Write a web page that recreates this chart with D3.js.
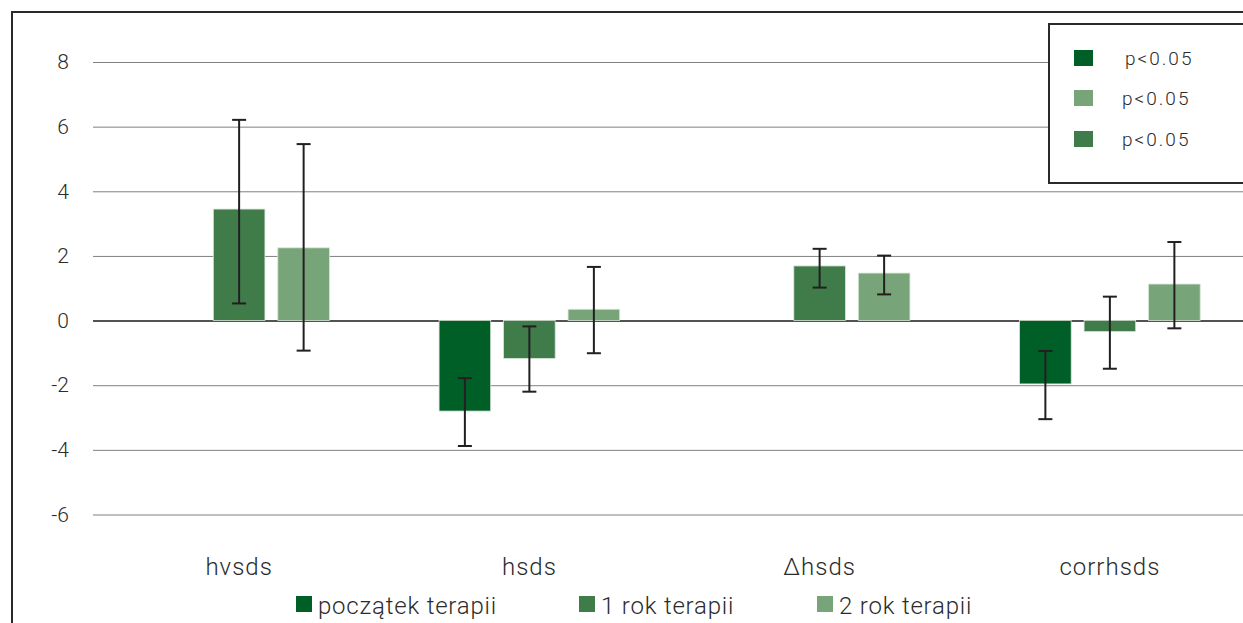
<!DOCTYPE html>
<html>
<head>
<meta charset="utf-8">
<script src="https://cdn.jsdelivr.net/npm/d3@7"></script>
<style>
  html, body { margin: 0; padding: 0; background: #fff; }
  svg { display: block; }
  text { font-family: Roboto, "Liberation Sans", Arial, sans-serif; font-weight: 300; fill: #2b2b2b; }
</style>
</head>
<body>
<svg id="chart" width="1243" height="623"></svg>
<script>
// Categories and series
const categories = ["hvsds", "hsds", "Δhsds", "corrhsds"];
const seriesNames = ["początek terapii", "1 rok terapii", "2 rok terapii"];
const seriesColors = ["#005f27", "#3f7c4a", "#78a479"];

// Means per series (null = no bar in that category)
const meansStart = [null, -2.80, null, -1.96];
const means1Year = [3.45, -1.17, 1.69, -0.34];
const means2Year = [2.25, 0.35, 1.47, 1.13];

// Error bar bounds per series
const lowStart = [null, -3.88, null, -3.05];
const highStart = [null, -1.78, null, -0.94];
const low1Year = [0.53, -2.20, 1.02, -1.49];
const high1Year = [6.21, -0.18, 2.22, 0.74];
const low2Year = [-0.93, -1.01, 0.81, -0.24];
const high2Year = [5.46, 1.66, 2.01, 2.43];

// Y axis ticks
const yTicks = [-6, -4, -2, 0, 2, 4, 6, 8];

// Significance legend (order of squares: series index)
const sigLabels = ["p<0.05", "p<0.05", "p<0.05"];
const sigSeries = [0, 2, 1];

const means = [meansStart, means1Year, means2Year];
const lows = [lowStart, low1Year, low2Year];
const highs = [highStart, high1Year, high2Year];

const rows = [];
categories.forEach((c, ci) => {
  seriesNames.forEach((s, si) => {
    if (means[si][ci] !== null) {
      rows.push({ cat: c, series: s, si, value: means[si][ci], lo: lows[si][ci], hi: highs[si][ci] });
    }
  });
});

const svg = d3.select("#chart");

const x = d3.scaleBand().domain(categories).range([94, 1255]);
const xs = d3.scaleBand().domain(seriesNames).range([-96.75, 96.75]).paddingInner(0.2).paddingOuter(0.1);
const y = d3.scaleLinear().domain([-6, 8]).range([514.5, 62]);

// Outer frame
svg.append("rect")
  .attr("x", 12).attr("y", 12).attr("width", 1260).attr("height", 640)
  .attr("fill", "none").attr("stroke", "#2a2a2a").attr("stroke-width", 2);

// Gridlines and y tick labels
const yAxis = svg.append("g")
  .attr("transform", "translate(93,0)")
  .call(d3.axisLeft(y).tickValues(yTicks).tickSizeInner(-1160).tickSizeOuter(0).tickPadding(24).tickFormat(d3.format("d")));
yAxis.select(".domain").remove();
yAxis.selectAll(".tick line")
  .attr("stroke", d => d === 0 ? "#1a1a1a" : "#808080")
  .attr("stroke-width", d => d === 0 ? 1.5 : 1);
yAxis.selectAll(".tick text")
  .style("font-size", "21px")
  .attr("fill", "#2b2b2b")
  .text(d => d < 0 ? "-" + Math.abs(d) : d);

// Bars
const barW = xs.bandwidth();
svg.append("g").selectAll("rect")
  .data(rows)
  .join("rect")
  .attr("x", d => x(d.cat) + x.bandwidth() / 2 + xs(d.series))
  .attr("y", d => y(Math.max(0, d.value)))
  .attr("width", barW)
  .attr("height", d => Math.abs(y(d.value) - y(0)))
  .attr("fill", d => seriesColors[d.si])
  .attr("stroke", "#d6e4d6")
  .attr("stroke-width", 0.8);

// Error bars
const errG = svg.append("g").attr("stroke", "#231f20").attr("stroke-width", 2);
rows.forEach(d => {
  const cx = x(d.cat) + x.bandwidth() / 2 + xs(d.series) + barW / 2;
  errG.append("line").attr("x1", cx).attr("x2", cx).attr("y1", y(d.hi)).attr("y2", y(d.lo));
  errG.append("line").attr("x1", cx - 7).attr("x2", cx + 7).attr("y1", y(d.hi)).attr("y2", y(d.hi));
  errG.append("line").attr("x1", cx - 7).attr("x2", cx + 7).attr("y1", y(d.lo)).attr("y2", y(d.lo));
});

// Category labels
const xAxis = svg.append("g")
  .attr("transform", "translate(0,556)")
  .call(d3.axisBottom(x).tickSize(0).tickPadding(0));
xAxis.select(".domain").remove();
xAxis.selectAll(".tick text")
  .style("font-size", "24px")
  .style("letter-spacing", "1px")
  .attr("fill", "#2b2b2b")
  .attr("y", 19).attr("dy", 0);

// Significance legend box
const sig = svg.append("g");
sig.append("rect")
  .attr("x", 1049).attr("y", 24).attr("width", 220).attr("height", 159)
  .attr("fill", "#fff").attr("stroke", "#2a2a2a").attr("stroke-width", 2);
const sigY = [50, 90, 131];
const sigTx = [1125, 1122, 1122];
sigSeries.forEach((si, i) => {
  sig.append("rect").attr("x", 1074).attr("y", sigY[i]).attr("width", 19).attr("height", 16)
    .attr("fill", seriesColors[si]);
  sig.append("text").attr("x", sigTx[i]).attr("y", sigY[i] + 15)
    .style("font-size", "19px").style("letter-spacing", "2px")
    .text(sigLabels[i]);
});

// Series legend
const legX = [296, 579, 817];
const leg = svg.append("g");
seriesNames.forEach((s, i) => {
  leg.append("rect").attr("x", legX[i]).attr("y", 596).attr("width", 16).attr("height", 16)
    .attr("fill", seriesColors[i]);
  leg.append("text").attr("x", legX[i] + 22).attr("y", 614)
    .style("font-size", "24px").style("letter-spacing", "0.8px")
    .text(s);
});
</script>
</body>
</html>
